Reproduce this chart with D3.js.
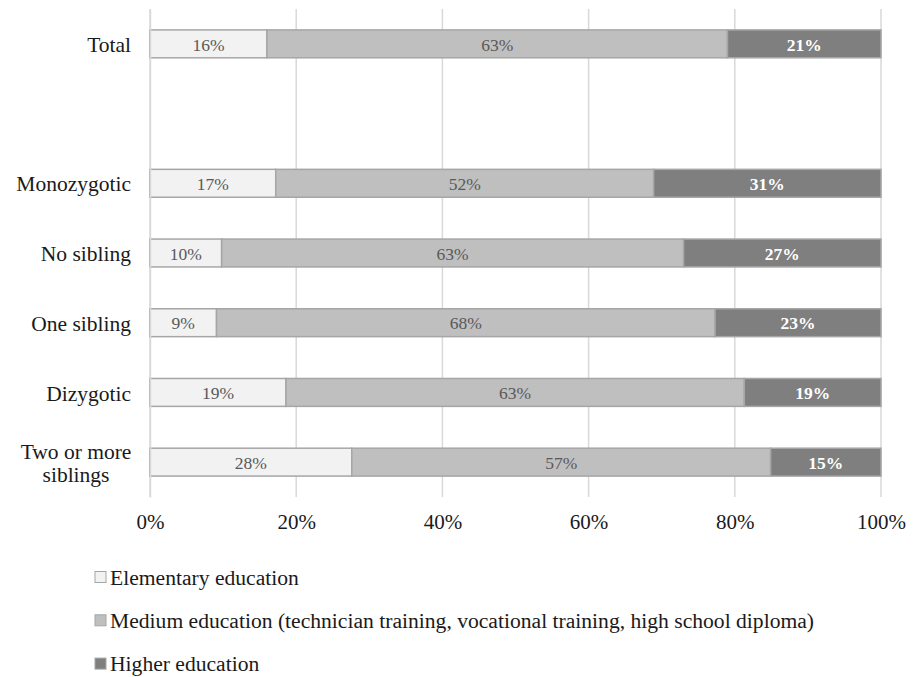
<!DOCTYPE html>
<html>
<head>
<meta charset="utf-8">
<script src="https://cdn.jsdelivr.net/npm/d3@7"></script>
<style>
  html, body { margin: 0; padding: 0; background: #fff; }
  svg { display: block; }
  svg text { font-family: "Liberation Serif", "Times New Roman", Times, "DejaVu Serif", serif !important; }
</style>
</head>
<body>
<svg id="chart" width="922" height="677"></svg>
<script>
// Education level by sibling status (shares of each group)
// "" is an empty spacer row between the total and the groups
const categories = ["Total", "", "Monozygotic", "No sibling", "One sibling", "Dizygotic", "Two or more\nsiblings"];
const elementary = [0.160, null, 0.172, 0.098, 0.091, 0.186, 0.276];
const medium     = [0.630, null, 0.517, 0.632, 0.682, 0.627, 0.573];
const higher     = [0.210, null, 0.311, 0.270, 0.227, 0.187, 0.151];
const seriesNames = [
  "Elementary education",
  "Medium education (technician training, vocational training, high school diploma)",
  "Higher education"
];
const tickValues = [0, 0.2, 0.4, 0.6, 0.8, 1.0];

const fills = ["#f2f2f2", "#bfbfbf", "#7f7f7f"];
const labelColors = ["#595959", "#595959", "#ffffff"];
const labelWeights = ["normal", "normal", "bold"];

const svg = d3.select("#chart");
const plot = { left: 150, right: 881, top: 9, bottom: 497 };

const x = d3.scaleLinear().domain([0, 1]).range([plot.left, plot.right]);
const y = d3.scaleBand().domain(categories).range([plot.top, plot.bottom])
  .paddingInner(0.6).paddingOuter(0.3);

// vertical gridlines
svg.append("g").selectAll("line")
  .data(tickValues)
  .join("line")
  .attr("x1", d => x(d)).attr("x2", d => x(d))
  .attr("y1", plot.top).attr("y2", plot.bottom)
  .attr("stroke", "#d9d9d9").attr("stroke-width", 1.5);

// stacked rows
const rows = categories.map((c, i) => ({ cat: c, vals: [elementary[i], medium[i], higher[i]] }))
  .filter(r => r.vals[0] !== null);

const segs = [];
rows.forEach(r => {
  let acc = 0;
  r.vals.forEach((v, k) => {
    segs.push({ cat: r.cat, k, x0: acc, x1: acc + v, v });
    acc += v;
  });
});

svg.append("g").selectAll("rect")
  .data(segs)
  .join("rect")
  .attr("x", d => x(d.x0))
  .attr("y", d => y(d.cat))
  .attr("width", d => x(d.x1) - x(d.x0))
  .attr("height", y.bandwidth())
  .attr("fill", d => fills[d.k])
  .attr("stroke", "#a6a6a6")
  .attr("stroke-width", 1.5);

const pct = d3.format(".0%");
svg.append("g").selectAll("text")
  .data(segs)
  .join("text")
  .attr("x", d => (x(d.x0) + x(d.x1)) / 2)
  .attr("y", d => y(d.cat) + y.bandwidth() / 2)
  .attr("dy", "0.38em")
  .attr("text-anchor", "middle")
  .attr("font-size", 17.5)
  .attr("font-weight", d => labelWeights[d.k])
  .attr("fill", d => labelColors[d.k])
  .text(d => pct(d.v));

// category axis
const yAxis = svg.append("g")
  .attr("transform", `translate(${plot.left},0)`)
  .call(d3.axisLeft(y).tickSize(0).tickPadding(19));
yAxis.select(".domain").attr("stroke", "#d9d9d9").attr("stroke-width", 1.5);
yAxis.selectAll(".tick text")
  .attr("font-size", 21.5)
  .attr("fill", "#1a1a1a")
  .attr("dy", "0.38em")
  .each(function(d) {
    const lines = d.split("\n");
    if (lines.length > 1) {
      const t = d3.select(this).text(null)
        .attr("text-anchor", "middle")
        .attr("x", -74)
        .attr("dy", null);
      lines.forEach((ln, i) => {
        t.append("tspan").attr("x", -74)
          .attr("y", (i - (lines.length - 1) / 2) * 23)
          .attr("dy", "0.38em")
          .text(ln);
      });
    }
  });

// value axis
const xAxis = svg.append("g")
  .attr("transform", `translate(0,${plot.bottom})`)
  .call(d3.axisBottom(x).tickValues(tickValues).tickFormat(d3.format(".0%")).tickSize(0).tickPadding(17));
xAxis.select(".domain").remove();
xAxis.selectAll(".tick text")
  .attr("font-size", 21)
  .attr("fill", "#1a1a1a");

// legend
const legend = svg.append("g").selectAll("g")
  .data(seriesNames)
  .join("g")
  .attr("transform", (d, i) => `translate(95,${584.5 + i * 43.3})`);
legend.append("rect")
  .attr("x", 0).attr("y", -13).attr("width", 11).attr("height", 11)
  .attr("fill", (d, i) => fills[i])
  .attr("stroke", "#a6a6a6").attr("stroke-width", 1);
legend.append("text")
  .attr("x", 15).attr("y", 0)
  .attr("font-size", 21.6)
  .attr("fill", "#1a1a1a")
  .text(d => d);
</script>
</body>
</html>
